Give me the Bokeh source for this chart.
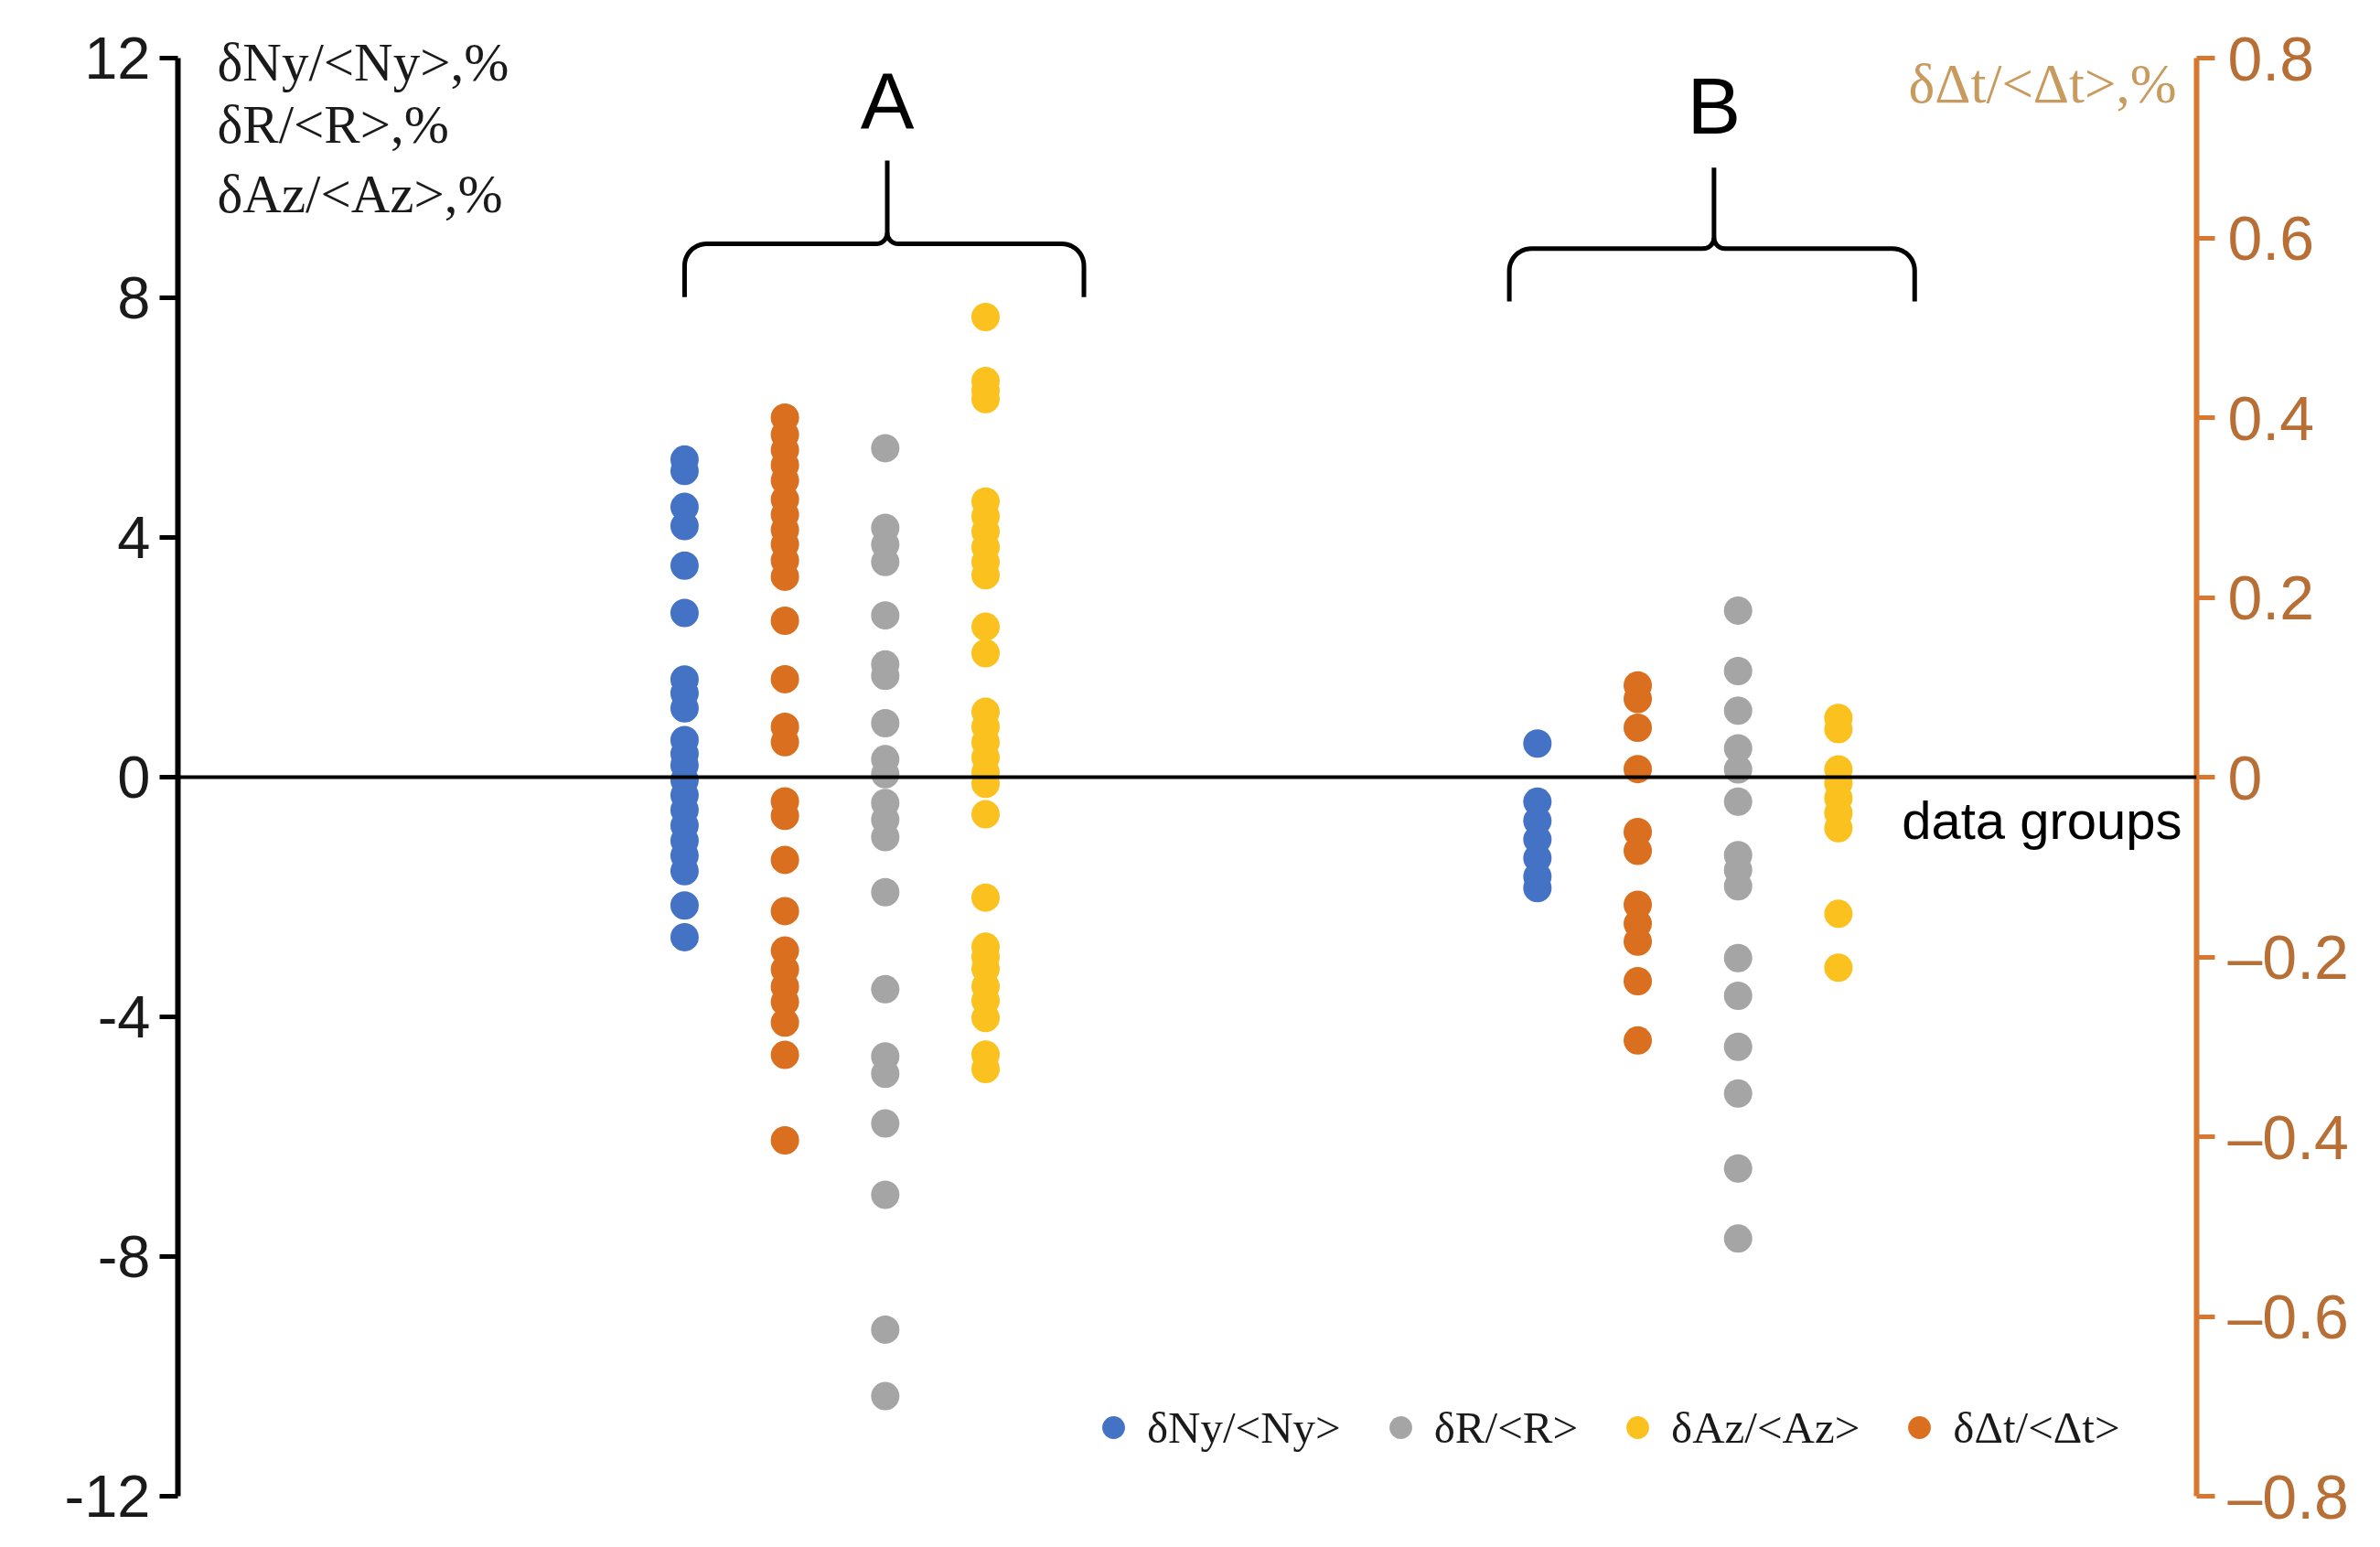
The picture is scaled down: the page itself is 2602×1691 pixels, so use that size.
import numpy as np
from bokeh.plotting import figure
from bokeh.models import (Range1d, LinearAxis, Span, Label, Legend, LegendItem,
                          FixedTicker, CustomJSTickFormatter, ColumnDataSource)
from bokeh.embed import file_html
from bokeh.resources import INLINE

# ---------------- data ----------------
groups = ["A", "B"]
series_labels = ["δNy/<Ny>", "δR/<R>", "δAz/<Az>", "δΔt/<Δt>"]

# δNy/<Ny>, %  (left axis)
ny_A = [5.30, 5.11, 4.51, 4.19, 3.53, 2.74, 1.63, 1.40, 1.15, 0.62, 0.39, 0.20, -0.05,
        -0.30, -0.55, -0.81, -1.06, -1.31, -1.57, -2.14, -2.67]
ny_B = [0.56, -0.41, -0.73, -1.04, -1.35, -1.66, -1.85]

# δR/<R>, %  (left axis)
r_A = [5.49, 4.16, 3.88, 3.59, 2.70, 1.88, 1.69, 0.90, 0.30, 0.05, -0.43, -0.71, -1.00,
       -1.92, -3.54, -4.66, -4.95, -5.78, -6.97, -9.22, -10.33]
r_B = [2.78, 1.77, 1.11, 0.48, 0.13, -0.41, -1.30, -1.55, -1.82, -3.02, -3.65, -4.50,
       -5.28, -6.53, -7.70]

# δAz/<Az>, %  (left axis)
az_A = [7.68, 6.61, 6.45, 6.31, 4.60, 4.35, 4.10, 3.84, 3.59, 3.37, 2.51, 2.07, 1.09,
        0.84, 0.58, 0.33, 0.08, -0.11, -0.62, -2.01, -2.83, -3.00, -3.20, -3.49, -3.73,
        -4.02, -4.63, -4.87]
az_B = [0.99, 0.80, 0.13, -0.10, -0.35, -0.60, -0.85, -2.28, -3.18]

# δΔt/<Δt>, %  (right axis)
dt_A = [0.400, 0.381, 0.364, 0.347, 0.330, 0.309, 0.292, 0.275, 0.259, 0.241, 0.223,
        0.174, 0.109, 0.056, 0.039, -0.027, -0.043, -0.092, -0.149, -0.193, -0.214,
        -0.233, -0.250, -0.273, -0.309, -0.404]
dt_B = [0.102, 0.087, 0.055, 0.009, -0.061, -0.082, -0.142, -0.163, -0.183, -0.227,
        -0.293]

left_ticks = [-12, -8, -4, 0, 4, 8, 12]
right_ticks = [-0.8, -0.6, -0.4, -0.2, 0, 0.2, 0.4, 0.6, 0.8]

# ---------------- layout / style ----------------
W, H = 2586, 1675
BL, BR, BT, BB = 194, 185, 8, 40
FW, FH = W - BL - BR, H - BT - BB
PX_PER_UNIT = 65.5                     # left-axis pixels per unit
AX_TOP_PX = 55                         # axis top (value 12) below frame top
X0, X1 = -4.05, 16.07
Y0 = -12
Y1 = 12 + AX_TOP_PX / PX_PER_UNIT
RATIO = 15.0                           # left / right axis scale
DX = (X1 - X0) / FW
DY = (Y1 - Y0) / FH
AX_H = FH - AX_TOP_PX                  # frame px from bottom to the axis top

group_center = {"A": 2.5, "B": 11.0}
slot = {"ny": -1.5, "dt": -0.5, "r": 0.5, "az": 1.5}

C_BLUE = "#4472C4"
C_GRAY = "#A5A5A5"
C_YEL = "#FBC21F"
C_ORG = "#DA6F1F"
C_RAXIS = "#D8772F"
C_RLAB = "#B86F36"

SANS = "Liberation Sans"
SERIF = "Liberation Serif"

p = figure(width=W, height=H, x_range=Range1d(X0, X1), y_range=Range1d(Y0, Y1),
           x_axis_location=None, y_axis_location="left",
           output_backend="svg", toolbar_location=None,
           min_border_left=BL, min_border_right=BR, min_border_top=BT, min_border_bottom=BB)
p.extra_y_ranges = {"dt": Range1d(Y0 / RATIO, Y1 / RATIO)}
p.outline_line_color = None
p.xgrid.visible = False
p.ygrid.visible = False

# left axis
ya = p.yaxis[0]
ya.bounds = (-12, 12)
ya.ticker = FixedTicker(ticks=left_ticks)
ya.formatter = CustomJSTickFormatter(code="return String(Math.round(tick));")
ya.axis_line_width = 6
ya.axis_line_color = "black"
ya.major_tick_line_width = 5
ya.major_tick_line_color = "black"
ya.major_tick_out = 20
ya.major_tick_in = 0
ya.minor_tick_line_color = None
ya.major_label_standoff = 10
ya.major_label_text_font = SANS
ya.major_label_text_font_size = "65px"
ya.major_label_text_color = "#1a1a1a"

# right axis
ra = LinearAxis(y_range_name="dt", ticker=FixedTicker(ticks=right_ticks),
                formatter=CustomJSTickFormatter(code="""
                    if (Math.abs(tick) < 1e-9) { return "0"; }
                    var s = Math.abs(tick).toFixed(1);
                    return (tick < 0 ? "\\u2013" : "") + s;
                """))
ra.bounds = (-0.8, 0.8)
ra.axis_line_width = 6
ra.axis_line_color = C_RAXIS
ra.major_tick_line_width = 5
ra.major_tick_line_color = C_RAXIS
ra.major_tick_out = 20
ra.major_tick_in = 0
ra.minor_tick_line_color = None
ra.major_label_standoff = 14
ra.major_label_text_font = SANS
ra.major_label_text_font_size = "68px"
ra.major_label_text_color = C_RLAB
p.add_layout(ra, "right")

# zero line (x axis)
p.add_layout(Span(location=0, dimension="width", line_color="black", line_width=4))

# ---------------- points ----------------
MS = 31
renderers = {}


def add_series(key, vals_by_group, color, label, yrn=None):
    xs, ys = [], []
    for g, vals in zip(groups, vals_by_group):
        xs += [group_center[g] + slot[key]] * len(vals)
        ys += list(vals)
    src = ColumnDataSource(dict(x=xs, y=ys))
    kw = {}
    if yrn:
        kw["y_range_name"] = yrn
    r = p.scatter("x", "y", source=src, size=MS, marker="circle",
                  fill_color=color, line_color=None, **kw)
    renderers[label] = r
    return r


add_series("ny", [ny_A, ny_B], C_BLUE, series_labels[0])
add_series("r", [r_A, r_B], C_GRAY, series_labels[1])
add_series("az", [az_A, az_B], C_YEL, series_labels[2])
add_series("dt", [dt_A, dt_B], C_ORG, series_labels[3], yrn="dt")

# ---------------- braces ----------------
brace_left = [1.0, 9.22]
brace_right = [4.98, 13.26]
brace_tip = [3.02, 11.26]
brace_end_y = [8.01, 7.94]
brace_h_y = [8.90, 8.82]
brace_top_y = [10.29, 10.17]
group_label_y = [11.28, 11.2]


def brace(xl, xr, xc, y_end, y_h, y_tip, r=24, c=12):
    rx, ry = r * DX, r * DY
    cx, cy = c * DX, c * DY
    a1 = np.linspace(np.pi, np.pi / 2, 14)
    a2 = np.linspace(1.5 * np.pi, 2 * np.pi, 10)
    lx = [xl] + list(xl + rx + rx * np.cos(a1)) + list(xc - cx + cx * np.cos(a2)) + [xc]
    ly = [y_end] + list(y_h - ry + ry * np.sin(a1)) + list(y_h + cy + cy * np.sin(a2)) + [y_tip]
    a3 = np.linspace(np.pi, 1.5 * np.pi, 10)
    a4 = np.linspace(np.pi / 2, 0, 14)
    rxs = list(xc + cx + cx * np.cos(a3)) + list(xr - rx + rx * np.cos(a4)) + [xr]
    rys = list(y_h + cy + cy * np.sin(a3)) + list(y_h - ry + ry * np.sin(a4)) + [y_end]
    return (lx, ly), (rxs, rys)


for i, g in enumerate(groups):
    (lx, ly), (rx_, ry_) = brace(brace_left[i], brace_right[i], brace_tip[i],
                                 brace_end_y[i], brace_h_y[i], brace_top_y[i])
    p.line(lx, ly, line_color="black", line_width=5, line_join="round")
    p.line(rx_, ry_, line_color="black", line_width=5, line_join="round")
    p.add_layout(Label(x=brace_tip[i], y=group_label_y[i], text=g, text_align="center",
                       text_baseline="middle", text_font=SANS, text_font_size="88px",
                       text_color="black"))

# ---------------- texts ----------------
left_title = ["δNy/<Ny>,%", "δR/<R>,%", "δAz/<Az>,%"]
left_title_y = [AX_H - 4, AX_H - 72, AX_H - 148]
for t, yy in zip(left_title, left_title_y):
    p.add_layout(Label(x=43, y=yy, x_units="screen", y_units="screen", text=t,
                       text_align="left", text_baseline="middle", text_font=SERIF,
                       text_font_size="59px", text_color="#1a1a1a"))

p.add_layout(Label(x=FW - 22, y=AX_H - 28, x_units="screen", y_units="screen",
                   text="δΔt/<Δt>,%", text_align="right", text_baseline="middle",
                   text_font=SERIF, text_font_size="61px", text_color="#C99A5E"))

p.add_layout(Label(x=X1, y=0, x_offset=-16, y_offset=-14, text="data groups",
                   text_align="right", text_baseline="top", text_font=SANS,
                   text_font_size="58px", text_color="black"))

# ---------------- legend ----------------
legend = Legend(items=[LegendItem(label=s, renderers=[renderers[s]]) for s in series_labels],
                orientation="horizontal", location=(992, 44),
                glyph_width=62, glyph_height=62, label_standoff=6, spacing=34,
                padding=0, margin=0, border_line_alpha=0, background_fill_alpha=0,
                label_text_font=SERIF, label_text_font_size="49px",
                label_text_color="#1a1a1a")
p.add_layout(legend, "center")

open("out.html", "w").write(file_html(p, INLINE))
